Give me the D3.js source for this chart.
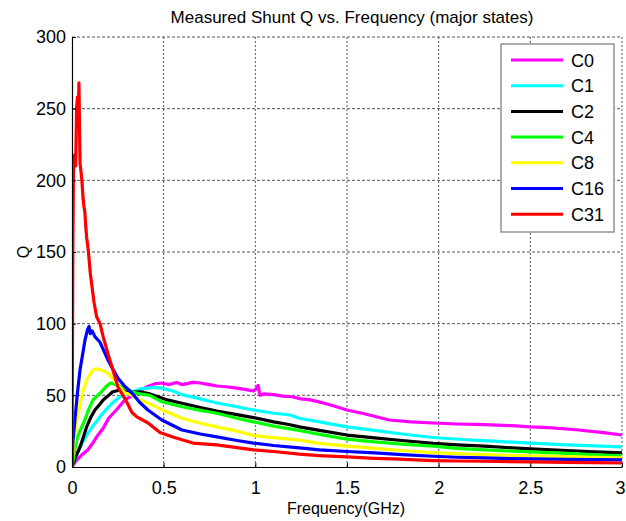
<!DOCTYPE html>
<html><head><meta charset="utf-8">
<script src="https://cdn.jsdelivr.net/npm/d3@7"></script>
<style>body{margin:0;background:#fff}svg{display:block}text{font-family:"Liberation Sans",Arial,Helvetica,sans-serif}</style>
</head><body><svg id="c" width="626" height="521"></svg>
<script>
const seriesNames = ["C0","C1","C2","C4","C8","C16","C31"];
const seriesColors = ["#ff00ff","#00ffff","#000000","#00ff00","#ffff00","#0000ff","#ff0000"];
const xTicks = [0,0.5,1,1.5,2,2.5,3];
const xTickLabels = ["0","0.5","1","1.5","2","2.5","3"];
const yTicks = [0,50,100,150,200,250,300];
const yTickLabels = ["0","50","100","150","200","250","300"];

const fC0 = [0,0.02,0.05,0.087,0.11,0.14,0.17,0.2,0.25,0.29,0.33,0.37,0.41,0.45,0.49,0.53,0.57,0.6,0.66,0.7,0.75,0.79,0.84,0.9,0.95,0.99,1.005,1.015,1.025,1.05,1.1,1.15,1.2,1.25,1.3,1.37,1.43,1.5,1.6,1.73,1.85,1.97,2.1,2.25,2.4,2.5,2.6,2.75,2.9,3.0];
const qC0 = [0,4,8,12,16,22,27,34,41,47,50,53,56,58,58.6,57.5,59,57.5,59,58.6,57.5,56.5,56,55,54,53,54.5,57,50,51,50.5,49.5,49,47.5,46.8,44.7,42.5,39.8,37,32.8,31.5,30.7,30,29.5,28.8,28,27.5,26,24,22.3];

const fC1 = [0,0.02,0.055,0.08,0.11,0.135,0.16,0.19,0.22,0.26,0.3,0.33,0.37,0.41,0.45,0.49,0.55,0.6,0.7,0.79,0.9,0.99,1.1,1.19,1.24,1.35,1.5,1.65,1.8,1.97,2.15,2.3,2.5,2.7,2.85,3.0];
const qC1 = [0,7,16.7,22,28,32,36.3,40.5,44.7,48.8,51,52.3,54.5,55,55.5,55,53,50.5,47.5,44.7,42,39.8,37.5,36.3,34,31.5,28,25.5,23,20.6,19,18,16.7,15.5,14.8,14];

const fC2 = [0,0.02,0.044,0.06,0.08,0.1,0.125,0.15,0.17,0.2,0.22,0.24,0.26,0.3,0.33,0.37,0.425,0.47,0.52,0.6,0.7,0.79,0.9,0.99,1.1,1.19,1.24,1.35,1.5,1.65,1.8,1.97,2.1,2.25,2.5,2.7,2.85,3.0];
const qC2 = [0,7,14,20,28,34,39.8,43.5,46.8,50,52.3,53,53.7,53.5,52.3,52.5,51,49,46.8,44.5,41.5,39,36.5,34.5,31.5,29.5,28,25.5,22.3,20.3,18.5,16.5,15.4,14.5,12.6,11.5,10.5,9.8];

const fC4 = [0,0.015,0.03,0.05,0.07,0.09,0.115,0.14,0.16,0.185,0.21,0.25,0.29,0.33,0.37,0.425,0.49,0.6,0.7,0.79,0.9,0.99,1.1,1.24,1.35,1.5,1.65,1.8,1.97,2.1,2.25,2.5,2.7,2.85,3.0];
const qC4 = [0,12,21,27,32.8,40,46.8,50,52.3,56,58.6,57,55,52.3,51,50,45.5,42,39.5,37.5,34,31.5,28.5,25.5,22.8,19.5,17.5,16,14.5,13,12,10.5,9.5,8.5,7.7];

const fC8 = [0,0.008,0.02,0.044,0.06,0.08,0.1,0.115,0.13,0.16,0.19,0.22,0.25,0.29,0.33,0.36,0.425,0.49,0.6,0.7,0.79,0.9,0.99,1.1,1.24,1.35,1.5,1.65,1.8,1.97,2.1,2.25,2.5,2.7,2.85,3.0];
const qC8 = [0,14,28,44.7,53,60.7,65,67.7,68.5,67.7,66,62,57,51.6,50,47.5,44,40,34,30.5,28,25,22,20.5,18.8,16.5,14.6,13,11.5,10,9.3,8.7,7.7,7.2,6.8,6.3];

const fC16 = [0,0.005,0.016,0.03,0.044,0.06,0.071,0.085,0.093,0.1,0.11,0.125,0.153,0.196,0.25,0.29,0.327,0.37,0.414,0.49,0.6,0.7,0.79,0.9,0.99,1.1,1.24,1.35,1.5,1.65,1.8,1.97,2.1,2.25,2.5,2.7,2.85,3.0];
const qC16 = [0,18,33,52,68,80,88.6,96,98,93,95,91,87,74.7,62,56,51.6,45,39.8,32.8,25.8,23,21,18.5,16.7,15,13.3,12,10.8,9.8,8.7,7.5,6.8,6.3,5.6,5.3,5.2,5];

const fC31 = [0,0.002,0.005,0.008,0.011,0.015,0.02,0.025,0.03,0.034,0.038,0.041,0.044,0.05,0.055,0.06,0.065,0.07,0.075,0.08,0.089,0.1,0.107,0.12,0.134,0.153,0.17,0.196,0.218,0.25,0.278,0.3,0.327,0.354,0.415,0.48,0.55,0.6,0.66,0.79,0.9,0.99,1.1,1.24,1.35,1.5,1.65,1.75,1.97,2.1,2.25,2.5,2.7,2.85,3.0];
const qC31 = [2,60,160,205,216,218,210,250,258,245,268,236,212,205,198,188,182,178,168,160,151,135,128,115,105,100,91,79,70,56,50,45,38,35,30.7,24,21,19,16.7,15.4,13.5,12,10.8,9,8,7,6,5.6,4.5,4.2,4,3.6,3.2,3,2.8];

const freqs = [fC0,fC1,fC2,fC4,fC8,fC16,fC31];
const qs = [qC0,qC1,qC2,qC4,qC8,qC16,qC31];

const L=72, R=622, T=37, B=467;
const svg = d3.select("#c");
const x = d3.scaleLinear().domain([0,3]).range([L,R]);
const y = d3.scaleLinear().domain([0,300]).range([B,T]);

// grid
const grid = svg.append("g");
xTicks.slice(1).forEach(t=>{
  grid.append("line").attr("x1",x(t)).attr("x2",x(t)).attr("y1",T).attr("y2",B)
   .attr("stroke","#555").attr("stroke-width",1).attr("stroke-dasharray","2,2");
});
yTicks.slice(1).forEach(t=>{
  grid.append("line").attr("x1",L).attr("x2",R).attr("y1",y(t)).attr("y2",y(t))
   .attr("stroke","#555").attr("stroke-width",1).attr("stroke-dasharray","3,2");
});

svg.append("clipPath").attr("id","clip").append("rect").attr("x",L).attr("y",T-3).attr("width",R-L+2).attr("height",B-T+3);

const line = d3.line().x(d=>x(d[0])).y(d=>y(d[1]));
const lg = svg.append("g").attr("clip-path","url(#clip)");
seriesNames.forEach((n,i)=>{
  const data = freqs[i].map((f,j)=>[f,qs[i][j]]);
  lg.append("path").datum(data).attr("d",line).attr("fill","none")
    .attr("stroke",seriesColors[i]).attr("stroke-width",3.2).attr("stroke-linejoin","round");
});

// axes
const xa = svg.append("g").attr("transform",`translate(0,${B})`)
  .call(d3.axisBottom(x).tickValues(xTicks).tickFormat((d,i)=>xTickLabels[i]).tickSizeInner(-4).tickSizeOuter(0).tickPadding(14));
const ya = svg.append("g").attr("transform",`translate(${L},0)`)
  .call(d3.axisLeft(y).tickValues(yTicks).tickFormat((d,i)=>yTickLabels[i]).tickSizeInner(-4).tickSizeOuter(0).tickPadding(6));
[xa,ya].forEach(a=>{
  a.select(".domain").attr("stroke","#000").attr("stroke-width",1.2);
  a.selectAll(".tick line").attr("stroke","#000");
  a.selectAll("text").attr("font-size",18).attr("fill","#000").attr("font-family","Liberation Sans, Arial, sans-serif");
});
// keep last x label inside the window
xa.selectAll(".tick text").filter((d,i)=>i===xTicks.length-1).attr("dx",-2);

svg.append("text").attr("x",352).attr("y",23).attr("text-anchor","middle").attr("font-size",17).text("Measured Shunt Q vs. Frequency (major states)");
svg.append("text").attr("x",346).attr("y",514).attr("text-anchor","middle").attr("font-size",16).text("Frequency(GHz)");
svg.append("text").attr("transform","translate(29,252) rotate(-90)").attr("text-anchor","middle").attr("font-size",16).text("Q");

// legend
const leg = svg.append("g");
leg.append("rect").attr("x",501).attr("y",44).attr("width",113).attr("height",188).attr("fill","#fff").attr("stroke","#777").attr("stroke-width",1.2);
seriesNames.forEach((n,i)=>{
  const yy = 60 + i*25.7;
  leg.append("line").attr("x1",511).attr("x2",563).attr("y1",yy).attr("y2",yy).attr("stroke",seriesColors[i]).attr("stroke-width",3);
  leg.append("text").attr("x",571).attr("y",yy+6.5).attr("font-size",18).text(n);
});
</script></body></html>
